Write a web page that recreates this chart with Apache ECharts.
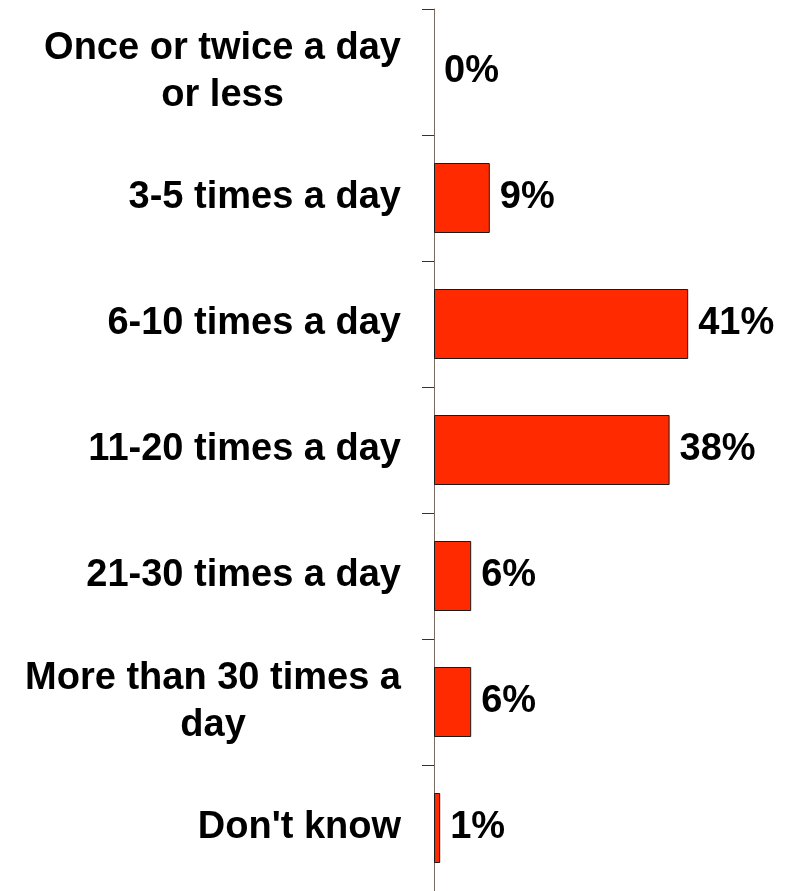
<!DOCTYPE html>
<html>
<head>
<meta charset="utf-8">
<script src="https://cdn.jsdelivr.net/npm/echarts@6/dist/echarts.min.js"></script>
<style>html,body{margin:0;padding:0;background:#fff}#c{width:785px;height:891px}</style>
</head>
<body>
<div id="c"></div>
<script>
var categories = ["Once or twice a day\nor less", "3-5 times a day", "6-10 times a day", "11-20 times a day", "21-30 times a day", "More than 30 times a\nday", "Don't know"];
var values = [0, 9, 41, 38, 6, 6, 1];

var FONT = '"Liberation Sans", Arial, sans-serif';
var chart = echarts.init(document.getElementById('c'), null, {renderer: 'canvas'});
chart.setOption({
  animation: false,
  backgroundColor: '#ffffff',
  grid: {left: 434, right: 41, top: 9, bottom: 0, containLabel: false},
  xAxis: {type: 'value', min: 0, max: 50, show: false, splitLine: {show: false}},
  yAxis: {
    type: 'category',
    inverse: true,
    data: categories,
    axisLine: {show: true, lineStyle: {color: '#7a6a62', width: 1}},
    axisTick: {show: true, length: 12, lineStyle: {color: '#333333', width: 1}},
    axisLabel: {
      margin: 33,
      align: 'right',
      formatter: function (v) {
        return v.split('\n').map(function (s) { return '{c|' + s + '}'; }).join('\n');
      },
      rich: {
        c: {align: 'center', fontSize: 38, fontWeight: 'bold', fontFamily: FONT, color: '#000', lineHeight: 47}
      }
    }
  },
  series: [{
    type: 'bar',
    data: values.map(function (v) { return v === 0 ? {value: v, itemStyle: {borderWidth: 0}} : v; }),
    barWidth: 70,
    itemStyle: {color: '#ff2a00', borderColor: '#1a1a1a', borderWidth: 1},
    label: {
      show: true,
      position: 'right',
      distance: 10,
      formatter: '{c}%',
      fontSize: 38,
      fontWeight: 'bold',
      fontFamily: FONT,
      color: '#000'
    }
  }]
});
</script>
</body>
</html>
